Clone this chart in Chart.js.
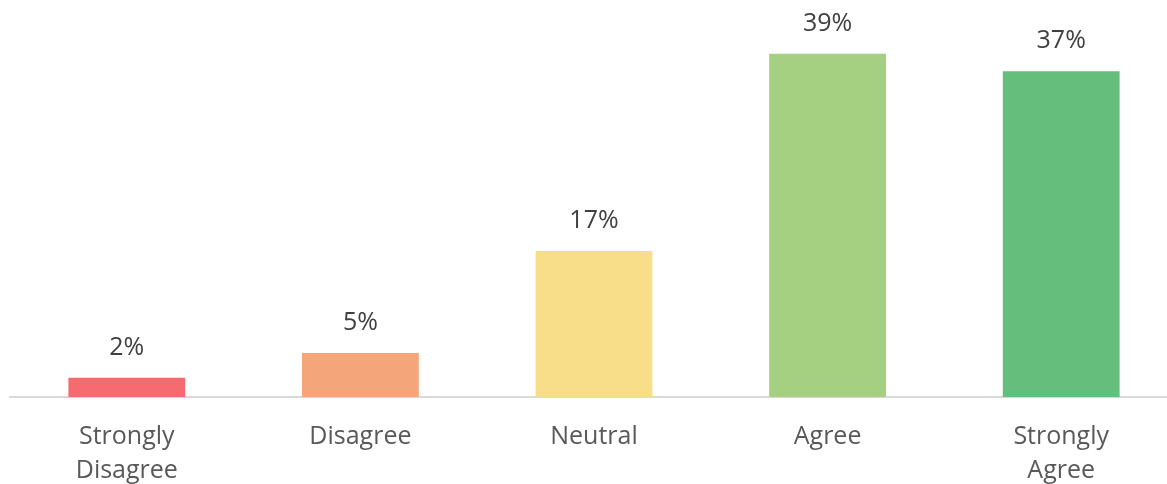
<!DOCTYPE html>
<html>
<head>
<meta charset="utf-8">
<script src="https://cdn.jsdelivr.net/npm/chart.js@4"></script>
<style>
  html, body { margin: 0; padding: 0; background: #fff; overflow: hidden; }
  #wrap { position: absolute; left: 0; top: 0; width: 1178px; height: 484px; }
</style>
</head>
<body>
<div id="wrap"><canvas id="c"></canvas></div>
<script>
const categories = [["Strongly", "Disagree"], "Disagree", "Neutral", "Agree", ["Strongly", "Agree"]];
const values = [2.2, 5, 16.6, 39, 37];
const barColors = ["#F66B6F", "#F5A57A", "#F8DE89", "#A5CF81", "#65BE7B"];

const labelPlugin = {
  id: 'barLabels',
  afterDatasetsDraw(chart) {
    const ctx = chart.ctx;
    const meta = chart.getDatasetMeta(0);
    ctx.save();
    ctx.font = '25px "Open Sans"';
    ctx.fillStyle = '#404040';
    ctx.textAlign = 'center';
    ctx.textBaseline = 'middle';
    meta.data.forEach((bar, i) => {
      ctx.fillText(Math.round(values[i]) + '%', bar.x, bar.y - 30);
    });
    ctx.restore();
  }
};

new Chart(document.getElementById('c'), {
  type: 'bar',
  data: {
    labels: categories,
    datasets: [{
      data: values,
      backgroundColor: barColors,
      borderWidth: 0,
      categoryPercentage: 1,
      barPercentage: 0.5
    }]
  },
  options: {
    responsive: true,
    maintainAspectRatio: false,
    animation: false,
    layout: { padding: { left: 10, right: 0, top: 0, bottom: 0 } },
    plugins: { legend: { display: false }, tooltip: { enabled: false } },
    scales: {
      x: {
        grid: { display: false, drawTicks: false },
        border: { display: true, color: '#D9D9D9', width: 2 },
        ticks: {
          color: '#595959',
          font: { family: '"Open Sans"', size: 25, lineHeight: 1.36 },
          padding: 23,
          maxRotation: 0,
          autoSkip: false
        },
        afterFit(scale) { scale.height = 87; }
      },
      y: {
        display: false,
        min: 0,
        max: 45.1
      }
    }
  },
  plugins: [labelPlugin]
});
</script>
</body>
</html>
